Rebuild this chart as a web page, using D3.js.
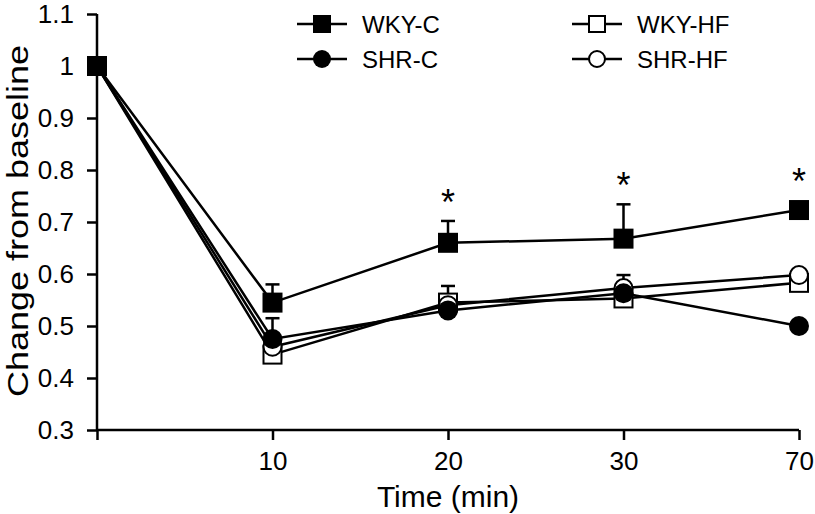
<!DOCTYPE html>
<html><head><meta charset="utf-8">
<script src="https://cdn.jsdelivr.net/npm/d3@7"></script>
<style>body{margin:0;background:#fff}svg{display:block}text{font-family:"Liberation Sans",Arial,Helvetica,sans-serif;fill:#000}</style>
</head><body><svg id="c" width="815" height="514"></svg>
<script>
const times = ["0","10","20","30","70"];
const timeLabels = ["","10","20","30","70"];
const yTicks = [0.3,0.4,0.5,0.6,0.7,0.8,0.9,1.0,1.1];
const wkyC = [1.0, 0.545, 0.660, 0.668, 0.723];
const wkyCsd = [0.01, 0.035, 0.042, 0.066, 0];
const shrC = [1.0, 0.475, 0.530, 0.563, 0.500];
const shrCsd = [0, 0.040, 0, 0.035, 0];
const wkyHF = [1.0, 0.445, 0.545, 0.553, 0.583];
const wkyHFsd = [0, 0, 0.032, 0, 0];
const shrHF = [1.0, 0.460, 0.540, 0.573, 0.598];
const shrHFsd = [0, 0, 0, 0, 0];
const starTimes = ["20","30","70"];

const series = [
  {name:"WKY-C", vals:wkyC, sd:wkyCsd, shape:"square", fill:"#000"},
  {name:"SHR-C", vals:shrC, sd:shrCsd, shape:"circle", fill:"#000"},
  {name:"WKY-HF", vals:wkyHF, sd:wkyHFsd, shape:"square", fill:"#fff"},
  {name:"SHR-HF", vals:shrHF, sd:shrHFsd, shape:"circle", fill:"#fff"}
];

const svg = d3.select("#c");
const x = d3.scalePoint().domain(times).range([97, 799]);
const y = d3.scaleLinear().domain([0.3, 1.1]).range([430, 14]);

// axes
const yAxis = d3.axisLeft(y).tickValues(yTicks).tickSize(10).tickPadding(13)
  .tickFormat(d => Math.abs(d-1)<1e-9 ? "1" : d3.format(".1f")(d));
const gy = svg.append("g").attr("transform","translate(97,0)").call(yAxis);
const xAxis = d3.axisBottom(x).tickSize(10).tickPadding(12).tickFormat((d,i)=>timeLabels[i]);
const gx = svg.append("g").attr("transform","translate(0,430)").call(xAxis);
[gy,gx].forEach(g=>{
  g.select(".domain").attr("stroke","#000").attr("stroke-width",2.5);
  g.selectAll(".tick line").attr("stroke","#000").attr("stroke-width",2.5);
  g.selectAll(".tick text").style("font-size","26px");
});
gy.select(".domain").attr("d","M0,"+y(1.1)+"H0V"+y(0.3));
gx.select(".domain").attr("d","M"+x("0")+",0H"+x("70"));

svg.append("text").attr("x",448).attr("y",507).attr("text-anchor","middle")
  .style("font-size","30px").text("Time (min)");
svg.append("text").attr("transform","translate(28,"+(y(0.7)-1)+") rotate(-90)")
  .attr("text-anchor","middle").style("font-size","30px")
  .attr("textLength",352).attr("lengthAdjust","spacingAndGlyphs").text("Change from baseline");

// lines
const line = d3.line().x((d,i)=>x(times[i])).y(d=>y(d));
series.forEach(s=>{
  svg.append("path").datum(s.vals).attr("d",line).attr("fill","none")
    .attr("stroke","#000").attr("stroke-width",2.5);
});

// error bars
series.forEach(s=>{
  s.vals.forEach((v,i)=>{
    if(!s.sd[i]) return;
    const cx = x(times[i]);
    svg.append("line").attr("x1",cx).attr("x2",cx).attr("y1",y(v)).attr("y2",y(v+s.sd[i]))
      .attr("stroke","#000").attr("stroke-width",2.5);
    svg.append("line").attr("x1",cx-7).attr("x2",cx+7).attr("y1",y(v+s.sd[i])).attr("y2",y(v+s.sd[i]))
      .attr("stroke","#000").attr("stroke-width",2.5);
  });
});

function marker(g, shape, fill, cx, cy, size){
  const filled = fill !== "#fff";
  if(shape==="square"){
    const s = filled ? size : size-2;
    g.append("rect").attr("x",cx-s/2).attr("y",cy-s/2).attr("width",s).attr("height",s)
      .attr("fill",fill).attr("stroke","#000").attr("stroke-width",filled?0:2);
  } else {
    const r = filled ? size/2 : size/2-1;
    g.append("circle").attr("cx",cx).attr("cy",cy).attr("r",r)
      .attr("fill",fill).attr("stroke","#000").attr("stroke-width",filled?0:2);
  }
}
const drawOrder = [2,3,0,1];
drawOrder.forEach(k=>{
  const s = series[k];
  s.vals.forEach((v,i)=>marker(svg, s.shape, s.fill, x(times[i]), y(v), 20));
});

// significance stars
starTimes.forEach(t=>{
  const i = times.indexOf(t);
  const top = Math.min(y(wkyC[i]+wkyCsd[i]), y(wkyC[i])-10);
  svg.append("text").attr("x",x(t)).attr("y",top-6).attr("text-anchor","middle")
    .style("font-size","36px").text("*");
});

// legend
const legPos = [[322,24],[322,59],[597,24],[597,59]];
series.forEach((s,k)=>{
  const [lx,ly] = legPos[k];
  const g = svg.append("g");
  g.append("line").attr("x1",lx-25).attr("x2",lx+25).attr("y1",ly).attr("y2",ly)
    .attr("stroke","#000").attr("stroke-width",2.5);
  marker(g, s.shape, s.fill, lx, ly, 18);
  g.append("text").attr("x",lx+40).attr("y",ly+9).style("font-size","24px").text(s.name);
});
</script></body></html>
